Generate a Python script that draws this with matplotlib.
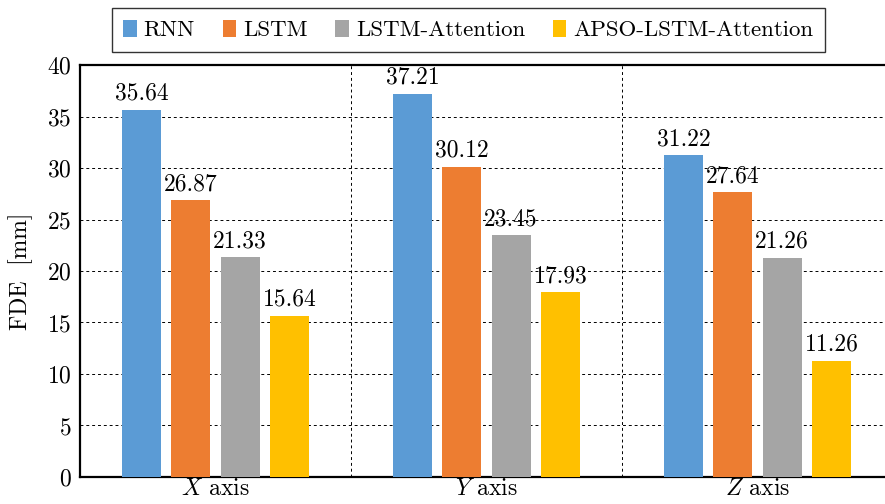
import numpy as np
import matplotlib.pyplot as plt
from matplotlib.patches import Patch

plt.rcParams["font.family"] = "cmr10"
plt.rcParams["mathtext.fontset"] = "cm"
plt.rcParams["axes.formatter.use_mathtext"] = True

groups = ["$X$ axis", "$Y$ axis", "$Z$ axis"]
models = ["RNN", "LSTM", "LSTM-Attention", "APSO-LSTM-Attention"]
rnn = [35.64, 37.21, 31.22]
lstm = [26.87, 30.12, 27.64]
lstm_att = [21.33, 23.45, 21.26]
apso = [15.64, 17.93, 11.26]
colors = ["#5B9BD5", "#ED7D31", "#A5A5A5", "#FFC000"]

series = [rnn, lstm, lstm_att, apso]
x = np.arange(1, len(groups) + 1)
step = 0.182
width = 0.144
fs = 17

fig = plt.figure(figsize=(8.85, 5.04), dpi=100)
ax = fig.add_axes([0.0904, 0.0536, 0.9186, 0.8174])

for i, (vals, c) in enumerate(zip(series, colors)):
    pos = x + (i - 1.5) * step
    bars = ax.bar(pos, vals, width=width, color=c, zorder=3)
    for b, v in zip(bars, vals):
        ax.text(b.get_x() + b.get_width() / 2, v + 0.5, f"{v:.2f}",
                ha="center", va="bottom", fontsize=fs, zorder=4)

ax.set_xlim(0.5, 3.5)
ax.set_ylim(0, 40)
ax.set_yticks(np.arange(0, 41, 5))
ax.set_xticks(x)
ax.set_xticklabels(groups, fontsize=fs)
ax.tick_params(axis="y", labelsize=fs, length=0, pad=6)
ax.tick_params(axis="x", length=0, pad=1)

for y in np.arange(5, 40, 5):
    ax.axhline(y, color="black", lw=0.7, ls=(0, (3, 3)), zorder=1)
for sep in [1.5, 2.5]:
    ax.axvline(sep, color="black", lw=0.7, ls=(0, (3, 3)), zorder=1)

for s in ax.spines.values():
    s.set_linewidth(1.6)

ax.set_ylabel("FDE  [mm]", fontsize=fs, labelpad=10)

handles = [Patch(facecolor=c, edgecolor="none") for c in colors]
leg = fig.legend(handles, models, loc="upper center", bbox_to_anchor=(0.529, 0.984),
                 ncol=4, fontsize=16.5, frameon=True, fancybox=False,
                 edgecolor="black", handlelength=0.6, handleheight=0.8,
                 handletextpad=0.3, columnspacing=1.2, borderpad=0.5,
                 borderaxespad=0)
leg.get_frame().set_linewidth(1.0)

fig.savefig("out.png", dpi=100)
